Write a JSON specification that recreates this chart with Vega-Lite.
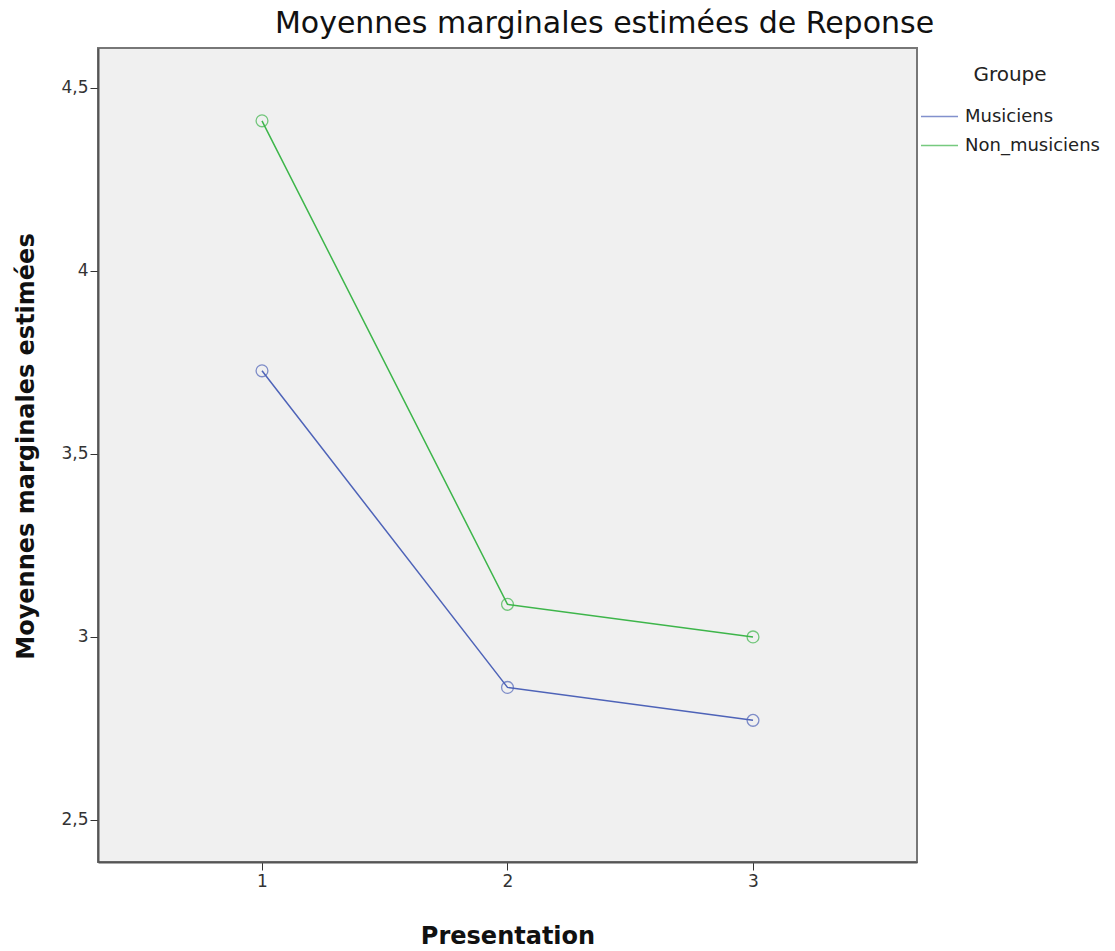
{
  "$schema": "https://vega.github.io/schema/vega-lite/v6.json",
  "autosize": {"type": "none"},
  "padding": {"left": 98, "top": 48, "right": 198, "bottom": 89},
  "width": 819,
  "height": 814,
  "background": "white",
  "title": {
    "text": "Moyennes marginales estimées de Reponse",
    "font": "DejaVu Sans",
    "fontSize": 30,
    "fontWeight": "normal",
    "color": "#111111",
    "anchor": "middle",
    "dx": 97,
    "offset": 9
  },
  "config": {
    "view": {"fill": "#F0F0F0", "stroke": "#777777", "strokeWidth": 2},
    "axis": {
      "grid": false,
      "labelFont": "DejaVu Sans",
      "labelFontSize": 17,
      "labelColor": "#333333",
      "titleFont": "DejaVu Sans",
      "titleFontSize": 24,
      "titleFontWeight": "bold",
      "titleColor": "#111111",
      "domainColor": "#555555",
      "domainWidth": 2,
      "tickColor": "#333333",
      "tickSize": 8
    },
    "legend": {
      "titleFont": "DejaVu Sans",
      "titleFontSize": 20,
      "titleFontWeight": "normal",
      "titleColor": "#222222",
      "labelFont": "DejaVu Sans",
      "labelFontSize": 18,
      "labelColor": "#222222"
    }
  },
  "data": {
    "values": [
      {"Presentation": 1, "Groupe": "Musiciens", "Moyenne": 3.727},
      {"Presentation": 2, "Groupe": "Musiciens", "Moyenne": 2.862},
      {"Presentation": 3, "Groupe": "Musiciens", "Moyenne": 2.772},
      {"Presentation": 1, "Groupe": "Non_musiciens", "Moyenne": 4.41},
      {"Presentation": 2, "Groupe": "Non_musiciens", "Moyenne": 3.089},
      {"Presentation": 3, "Groupe": "Non_musiciens", "Moyenne": 3.0}
    ]
  },
  "encoding": {
    "x": {
      "field": "Presentation",
      "type": "quantitative",
      "scale": {"domain": [0.332, 3.668], "nice": false, "zero": false},
      "axis": {
        "values": [1, 2, 3],
        "format": "d",
        "title": "Presentation",
        "titleY": 81,
        "titleBaseline": "alphabetic",
        "labelPadding": 3
      }
    },
    "y": {
      "field": "Moyenne",
      "type": "quantitative",
      "scale": {"domain": [2.385, 4.609], "nice": false, "zero": false},
      "axis": {
        "values": [2.5, 3, 3.5, 4, 4.5],
        "labelExpr": "replace(format(datum.value, '~g'), '.', ',')",
        "title": "Moyennes marginales estimées",
        "titleX": -60,
        "titleY": 398,
        "titleAngle": 270,
        "titleBaseline": "bottom",
        "labelPadding": 2
      }
    },
    "color": {
      "field": "Groupe",
      "type": "nominal",
      "scale": {"domain": ["Musiciens", "Non_musiciens"], "range": ["#4E63B8", "#3DB54A"]},
      "legend": {
        "title": "Groupe",
        "orient": "none",
        "legendX": 822,
        "legendY": 17,
        "symbolType": "stroke",
        "symbolSize": 1370,
        "symbolStrokeWidth": 1.5,
        "labelOffset": 6,
        "rowPadding": -6,
        "titlePadding": 12,
        "titleAnchor": "middle"
      }
    }
  },
  "layer": [
    {"mark": {"type": "line", "strokeWidth": 1.5}},
    {"mark": {"type": "point", "shape": "circle", "filled": false, "size": 140, "strokeWidth": 1.3}}
  ]
}
